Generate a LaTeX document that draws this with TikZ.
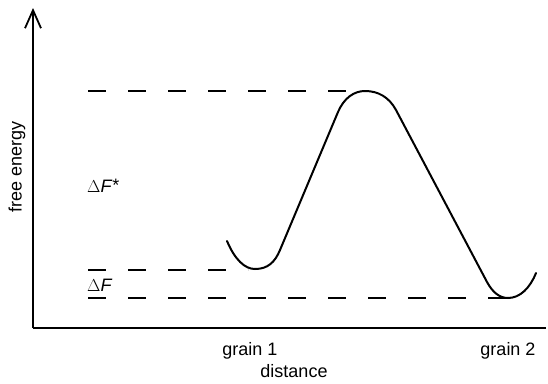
\documentclass[tikz,border=0pt]{standalone}
\usepackage{fontspec}
\setmainfont{Liberation Sans}
\usepackage{tikz}
\usetikzlibrary{arrows.meta,positioning}

\begin{document}
\begin{tikzpicture}[
  x=1pt,y=-1pt,
  axis/.style={line width=1.8pt},
  level/.style={line width=1.1pt,dash pattern=on 18pt off 22pt},
  curve/.style={line width=2pt,line cap=round},
  lbl/.style={font=\fontsize{18}{21}\selectfont,inner sep=0pt}
]
\useasboundingbox (0,0) rectangle (548,383);
% axes
\coordinate (O) at (33,328);
\coordinate (ytop) at (33,8);
\coordinate (xend) at (546,328);
\draw[axis,-{Straight Barb[length=18pt,width=16pt,line width=1.8pt]}] (O)--(ytop);
\draw[axis] (O)--(xend);
% levels
\coordinate (top0) at (88,91);
\coordinate (top1) at (365,91);
\coordinate (g1a) at (88,270);
\coordinate (g1b) at (248,270);
\coordinate (g2a) at (88,298);
\coordinate (g2b) at (506,298);
\draw[level] (top0)--(top1);
\draw[level] (g1a)--(g1b);
\draw[level] (g2a)--(g2b);
% energy curve
\draw[curve] (227,241) .. controls (235,260) and (245,269) .. (255,269)
  .. controls (268,269) and (275,262) .. (280,250) -- (338,112)
  .. controls (344,98) and (354,91) .. (365,91)
  .. controls (378,91) and (389,97) .. (396,110) -- (487,282)
  .. controls (493,293) and (500,298) .. (508,298)
  .. controls (520,298) and (530,288) .. (536,273);
% labels
\node[lbl,rotate=90] (fe) at (17,167) {free energy};
\node[lbl,anchor=west] (dFs) at (87,186) {$\Delta$\textit{F}\raisebox{1pt}{*}};
\node[lbl,anchor=west] (dF) at (87,285) {$\Delta$\textit{F}};
\node[lbl,anchor=base] (gr1) at (250,355) {grain 1};
\node[lbl,anchor=base] (gr2) at (508,355) {grain 2};
\node[lbl,anchor=base] (dist) at (294,377) {distance};
\end{tikzpicture}
\end{document}
